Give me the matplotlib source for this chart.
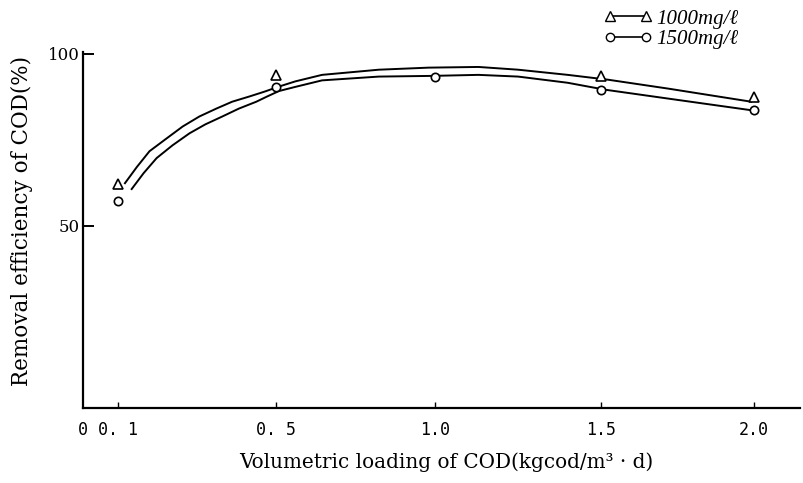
"""
Removal efficiency of COD vs. volumetric loading, two influent concentrations.
"""

import matplotlib
matplotlib.use('Agg')
import matplotlib.pyplot as plt
from matplotlib.lines import Line2D
import numpy as np

plt.rcParams['font.family'] = ['DejaVu Serif', 'DejaVu Sans']

# measured points
x_1000 = [0.1, 0.5, 1.5, 2.0]
y_1000 = [62.1, 93.9, 93.6, 87.6]
x_1500 = [0.1, 0.5, 1.0, 1.5, 2.0]
y_1500 = [57.2, 90.5, 93.4, 89.6, 83.8]

# hand-drawn fitted curves
curve_x_1000 = [0.118, 0.148, 0.18, 0.223, 0.264, 0.306, 0.349, 0.389, 0.432,
                0.47, 0.509, 0.56, 0.644, 0.822, 0.978, 1.13, 1.25, 1.40,
                1.523, 1.72, 1.99]
curve_y_1000 = [62.4, 67.1, 71.7, 75.4, 78.9, 81.8, 84.1, 86.1, 87.6,
                89.0, 90.5, 92.0, 93.9, 95.4, 96.0, 96.2, 95.4, 93.9,
                92.5, 89.9, 86.1]
curve_x_1500 = [0.135, 0.165, 0.198, 0.238, 0.281, 0.321, 0.364, 0.406, 0.45,
                0.477, 0.509, 0.56, 0.644, 0.822, 0.988, 1.13, 1.25, 1.40,
                1.513, 1.72, 2.0]
curve_y_1500 = [60.7, 65.3, 69.7, 73.4, 76.9, 79.5, 81.8, 84.1, 86.1,
                87.6, 89.2, 90.4, 92.3, 93.4, 93.6, 93.9, 93.4, 91.6,
                89.6, 87.0, 83.5]

xticks = [0, 0.1, 0.5, 1.0, 1.5, 2.0]
xtick_labels = ['0', '0. 1', '0. 5', '1.0', '1.5', '2.0']
yticks = [50, 100]

# the original axis is not evenly spaced; follow its tick spacing
KNOTS = [-1.0, 0.0, 0.1, 0.5, 1.0, 1.5, 2.0, 3.0]
SPAN = [-350.0, 0.0, 35.0, 194.0, 354.0, 520.0, 674.0, 1290.0]


def forward(v):
    return np.interp(v, KNOTS, SPAN)


def inverse(p):
    return np.interp(p, SPAN, KNOTS)


fig = plt.figure(figsize=(8.04, 4.83), dpi=100)
ax = fig.add_axes([0.1032, 0.155, 0.892, 0.737])
ax.set_xscale('function', functions=(forward, inverse))

ax.plot(curve_x_1000, curve_y_1000, '-', color='black', lw=1.4)
ax.plot(curve_x_1500, curve_y_1500, '-', color='black', lw=1.4)
ax.plot(x_1000, y_1000, '^', ms=7, mfc='white', mec='black', mew=1.2, ls='none')
ax.plot(x_1500, y_1500, 'o', ms=6, mfc='white', mec='black', mew=1.2, ls='none')

ax.set_xlim(0, 2.075)
ax.set_ylim(-3, 100.5)

for s in ['top', 'right']:
    ax.spines[s].set_visible(False)
for s in ['left', 'bottom']:
    ax.spines[s].set_linewidth(1.6)

ax.set_xticks(xticks)
ax.set_xticklabels(xtick_labels, family='DejaVu Sans Mono', fontsize=12)
ax.set_yticks(yticks)
ax.set_yticklabels([str(v) for v in yticks], fontsize=12)
ax.tick_params(axis='x', direction='in', length=4, width=1, pad=9)
ax.tick_params(axis='y', direction='in', length=8, width=1.4, pad=2)
ax.xaxis.get_major_ticks()[0].tick1line.set_visible(False)

ax.set_xlabel('Volumetric loading of COD(kgcod/m³ · d)', fontsize=14.4)
ax.xaxis.set_label_coords(0.506, -0.125)
ax.set_ylabel('Removal efficiency of COD(%)', fontsize=15.5)
ax.yaxis.set_label_coords(-0.07, 0.525)

handles = [
    Line2D([], [], color='black', lw=1.2, marker='^', ms=7, mfc='white', mec='black'),
    Line2D([], [], color='black', lw=1.2, marker='o', ms=6, mfc='white', mec='black'),
]
fig.legend(handles, ['1000mg/ℓ', '1500mg/ℓ'], loc='upper left',
           bbox_to_anchor=(0.728, 1.02), frameon=False, numpoints=2,
           handlelength=2.3, handletextpad=0.2, labelspacing=0.05,
           prop={'family': 'Liberation Serif', 'style': 'italic', 'size': 15})

fig.savefig('out.png', dpi=100)
